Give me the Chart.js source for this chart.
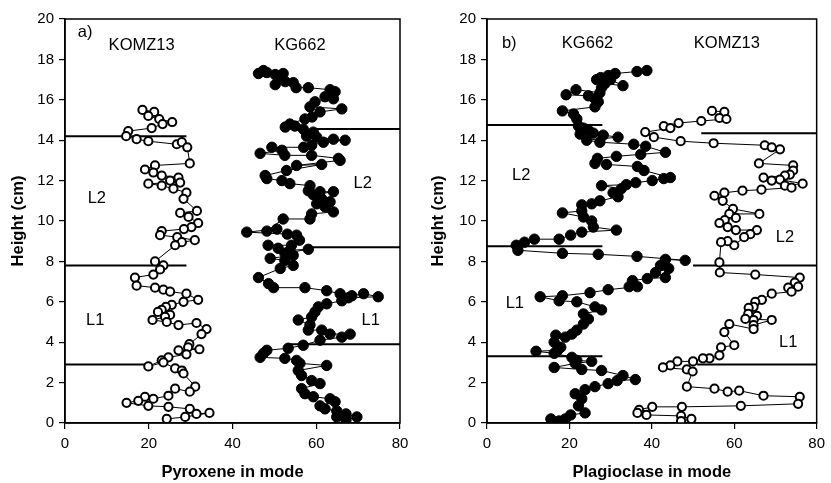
<!DOCTYPE html>
<html>
<head>
<meta charset="utf-8">
<title>Pyroxene / Plagioclase in mode</title>
<script src="https://cdn.jsdelivr.net/npm/chart.js@4.4.1/dist/chart.umd.min.js"></script>
<style>
  html, body { margin: 0; padding: 0; background: #fff; }
  #wrap { position: relative; width: 831px; height: 483px; }
  .panel { position: absolute; top: 0; height: 483px; }
  #pa { left: 0; width: 415px; }
  #pb { left: 415px; width: 416px; }
</style>
</head>
<body>
<div id="wrap">
  <div class="panel" id="pa"><canvas id="chartA"></canvas></div>
  <div class="panel" id="pb"><canvas id="chartB"></canvas></div>
</div>
<script>
/* ── Modal profiles, KOMZ13 vs KG662 ───────────────────────────────────────── */

// ── a) Pyroxene — KOMZ13 (open circles) ──────────────────────────────────────
const komzPyxMode = [18.5,21.3,19.9,22.5,25.6,23.3,20.7,15.1,14.6,17.1,19.9,26.7,27.9,29.2,29.8,21.5,19.1,21.1,23.1,27.1,
  25.1,27.5,19.9,23.1,25.9,29.0,28.3,31.5,27.5,29.5,31.8,30.2,28.4,23.1,22.7,26.8,31.0,27.9,26.3,21.5,
  23.5,22.7,21.1,16.7,17.1,21.5,23.5,25.1,29.0,31.8,28.3,25.5,24.1,23.1,22.2,25.1,23.9,20.9,24.3,27.1,
  31.4,33.8,32.6,29.7,29.4,32.1,27.1,29.0,24.7,23.1,19.9,23.5,26.3,27.9,28.3,31.1,29.8,26.3,24.7,21.1,
  19.1,17.5,14.7,19.9,24.7,29.8,31.4,34.5,28.7,24.3];
const komzPyxHeight = [15.5,15.4,15.2,15.05,14.9,14.8,14.6,14.45,14.2,14.05,13.95,13.8,13.9,13.65,12.85,12.75,12.55,12.4,12.25,12.15,
  12.0,11.9,11.85,11.75,11.6,11.4,11.1,10.5,10.4,10.2,9.9,9.7,9.6,9.5,9.3,9.2,9.05,8.95,8.8,8.0,
  7.8,7.6,7.35,7.2,6.8,6.7,6.6,6.5,6.4,6.1,6.0,5.85,5.75,5.6,5.5,5.35,5.25,5.1,5.0,4.85,
  4.95,4.65,4.4,3.9,3.75,3.65,3.6,3.4,3.25,3.1,2.8,3.0,2.7,2.6,2.45,1.8,1.55,1.7,1.35,1.2,
  1.3,1.1,1.0,0.85,0.8,0.7,0.45,0.5,0.3,0.2];

// ── a) Pyroxene — KG662 (filled circles) ─────────────────────────────────────
const kgPyxMode = [46.2,47.4,48.2,50.2,52.1,51.0,52.6,50.2,54.5,55.2,58.1,63.3,64.5,62.1,64.1,59.7,58.5,66.1,60.9,59.0,
  57.3,53.7,54.9,52.6,56.9,59.3,57.7,60.1,64.1,66.9,61.7,58.9,57.0,49.4,51.8,46.6,52.5,58.9,65.3,65.7,
  55.3,61.3,52.9,47.8,48.2,51.8,53.7,58.5,58.1,60.9,64.1,59.3,61.3,63.3,60.1,62.1,64.1,58.9,58.5,52.1,
  48.2,50.6,43.4,53.1,55.3,56.0,54.1,48.5,50.9,53.7,58.1,52.5,54.5,49.0,52.5,54.5,51.4,46.2,48.6,49.8,
  57.3,62.5,65.7,68.5,71.3,74.8,67.7,66.1,62.5,60.5,59.7,58.9,55.7,58.5,58.1,61.3,63.3,68.1,66.1,60.9,
  56.9,53.3,48.2,47.4,46.6,52.5,55.3,56.1,62.5,55.7,56.5,58.9,60.9,56.5,57.3,59.3,63.3,64.5,60.9,62.1,
  64.9,67.1,69.7,67.1,64.9];
const kgPyxHeight = [17.3,17.45,17.35,17.25,17.3,17.05,16.9,16.75,16.85,16.6,16.6,16.5,16.4,16.15,16.05,15.9,15.65,15.55,15.4,15.15,
  15.05,14.8,14.7,14.65,14.55,14.4,14.2,14.15,14.05,14.0,13.9,13.75,13.65,13.65,13.5,13.35,13.25,13.25,13.1,13.0,
  12.75,12.8,12.5,12.25,12.1,12.0,11.85,11.75,11.5,11.45,11.45,11.3,11.1,10.95,10.85,10.7,10.45,10.35,10.1,10.1,
  9.5,9.6,9.45,9.35,9.3,9.05,8.8,8.8,8.65,8.55,8.6,8.4,8.3,8.15,8.05,7.8,7.65,7.2,6.9,6.7,
  6.7,6.55,6.4,6.3,6.4,6.25,6.2,6.05,5.9,5.75,5.5,5.25,5.1,4.85,4.6,4.6,4.4,4.4,4.25,4.1,
  3.85,3.7,3.6,3.45,3.25,3.2,3.1,2.95,2.85,2.6,2.35,2.1,1.95,1.7,1.45,1.3,1.2,1.05,0.85,0.7,
  0.6,0.45,0.3,0.15,0.3];

// ── b) Plagioclase — KG662 (filled circles) ──────────────────────────────────
const kgPlgMode = [38.8,36.4,31.1,29.4,27.6,26.6,30.0,33.0,28.6,27.8,27.4,21.6,19.2,24.6,26.2,27.0,26.2,18.3,21.0,21.8,
  22.2,23.4,24.6,25.8,22.6,28.2,31.8,24.2,27.4,35.6,38.5,43.3,37.3,31.4,26.8,26.2,29.0,36.5,38.1,44.5,
  42.9,40.1,36.1,33.8,27.8,32.6,30.6,31.8,27.4,25.4,23.0,23.0,18.3,23.4,25.4,25.8,31.4,23.0,20.3,17.5,
  11.5,9.1,7.1,7.5,18.3,27.0,36.4,48.1,43.3,42.1,44.1,40.9,43.3,38.9,35.3,34.5,36.5,29.4,25.0,18.3,
  12.9,17.5,21.8,26.2,27.8,23.4,24.6,23.4,21.8,20.6,19.0,16.7,16.3,17.9,17.1,11.9,16.3,20.6,21.8,25.4,
  21.4,16.3,23.0,27.8,33.0,36.0,31.6,29.4,26.2,23.8,21.4,23.0,22.2,23.8,20.3,19.0,17.5,15.5];
const kgPlgHeight = [17.45,17.4,17.3,17.2,17.1,17.0,17.0,16.7,16.8,16.6,16.35,16.5,16.25,16.2,16.05,15.9,15.65,15.45,15.3,15.05,
  14.7,14.6,14.5,14.35,14.3,14.25,14.15,14.0,13.9,13.8,13.7,13.4,13.3,13.2,13.1,12.85,12.8,12.7,12.5,12.15,
  12.1,12.0,11.9,11.8,11.75,11.6,11.4,11.2,11.0,10.85,10.8,10.5,10.4,10.2,10.0,9.7,9.55,9.45,9.3,9.1,
  9.1,8.95,8.8,8.55,8.4,8.35,8.25,8.05,8.1,7.8,7.65,7.45,7.2,7.15,7.05,6.75,6.75,6.6,6.45,6.3,
  6.25,6.05,6.0,5.75,5.6,5.4,5.15,4.9,4.6,4.4,4.25,4.35,4.0,3.75,3.6,3.55,3.45,3.25,3.1,3.05,
  2.95,2.75,2.65,2.6,2.35,2.15,2.1,1.95,1.8,1.65,1.45,1.2,0.85,0.5,0.4,0.2,0.1,0.2];

// ── b) Plagioclase — KOMZ13 (open circles) ───────────────────────────────────
const komzPlgMode = [54.6,57.6,56.4,58.1,52.0,46.5,42.9,44.5,38.4,40.5,47.0,55.0,67.4,69.1,71.1,66.0,74.3,74.3,73.5,72.3,
  67.1,69.1,71.1,76.6,72.3,73.9,66.6,62.0,57.6,55.2,57.2,59.7,66.1,58.8,60.4,57.7,56.4,58.4,60.4,65.5,
  63.9,62.4,60.0,58.4,56.8,56.4,56.5,65.1,75.9,74.7,73.1,75.5,73.9,69.1,66.7,65.1,64.7,63.5,63.4,65.5,
  64.7,62.7,69.1,64.7,64.7,58.8,57.6,60.0,56.8,56.4,54.0,52.4,50.0,46.2,44.5,42.7,48.5,49.9,48.5,55.2,
  58.4,61.2,67.1,75.9,75.5,61.6,47.3,40.1,36.9,36.5,38.7,47.1,49.6,47.1];
const komzPlgHeight = [15.45,15.4,15.1,15.05,14.95,14.85,14.7,14.6,14.4,14.15,13.95,13.85,13.75,13.65,13.55,12.85,12.75,12.5,12.3,12.25,
  12.15,12.0,12.05,11.85,11.75,11.65,11.55,11.5,11.4,11.25,11.0,10.6,10.35,10.35,10.15,10.05,9.9,9.7,9.55,9.55,
  9.35,9.2,8.8,9.0,8.95,7.95,7.45,7.35,7.2,6.95,6.7,6.75,6.5,6.4,6.1,6.0,5.75,5.7,5.4,5.3,
  5.1,5.15,5.1,4.85,4.65,4.9,4.5,3.85,3.75,3.35,3.2,3.2,3.05,3.05,2.85,2.75,2.65,2.55,1.8,1.7,
  1.55,1.6,1.35,1.3,0.95,0.85,0.8,0.8,0.65,0.5,0.4,0.35,0.2,0.1];

// ── Layer boundaries (horizontal bars) ───────────────────────────────────────
const boundHeightA = [14.2, 7.8, 2.9, 14.55, 8.7, 3.9];
const boundFromA   = [0, 0, 0, 58.5, 59, 53];
const boundToA     = [29, 29, 20, 80, 80, 80];
const boundHeightB = [14.75, 8.75, 3.3, 14.35, 7.8, 2.9];
const boundFromB   = [0, 0, 0, 52, 50, 51];
const boundToB     = [28, 28, 28, 80, 80, 80];

// ── Text labels inside the plots ─────────────────────────────────────────────
const labelTextA = ['a)', 'KOMZ13', 'KG662', 'L2', 'L1', 'L2', 'L1'];
const labelXA    = [4.8, 18.3, 56.1, 7.6, 7.2, 71.1, 73.0];
const labelYA    = [19.35, 18.7, 18.7, 11.1, 5.1, 11.85, 5.1];
const labelTextB = ['b)', 'KG662', 'KOMZ13', 'L2', 'L1', 'L2', 'L1'];
const labelXB    = [5.4, 24.4, 58.2, 8.3, 6.75, 72.3, 73.1];
const labelYB    = [18.8, 18.8, 18.8, 12.25, 5.9, 9.2, 4.0];

const yTicks = [0, 2, 4, 6, 8, 10, 12, 14, 16, 18, 20];
const xTicks = [0, 20, 40, 60, 80];

const FONT = "'Liberation Sans', Arial, Helvetica, sans-serif";

// ── Helpers ──────────────────────────────────────────────────────────────────
function toPoints(xs, ys) {
  const n = Math.min(xs.length, ys.length);
  const pts = [];
  for (let i = 0; i < n; i++) pts.push({ x: xs[i], y: ys[i] });
  return pts;
}

function profile(xs, ys, filled) {
  return {
    data: toPoints(xs, ys),
    showLine: true,
    borderColor: '#000',
    borderWidth: 1,
    backgroundColor: filled ? '#000' : '#fff',
    pointBackgroundColor: filled ? '#000' : '#fff',
    pointBorderColor: '#000',
    pointBorderWidth: filled ? 1 : 2,
    pointRadius: filled ? 5.2 : 4.1,
    tension: 0,
  };
}

function bounds(hs, from, to) {
  return hs.map((h, i) => ({
    data: [{ x: from[i], y: h }, { x: to[i], y: h }],
    showLine: true,
    borderColor: '#000',
    borderWidth: 2,
    pointRadius: 0,
  }));
}

// frame + in-plot labels
const framePlugin = {
  id: 'frame',
  afterDatasetsDraw(chart, args, opts) {
    const { ctx, chartArea: a, scales } = chart;
    ctx.save();
    ctx.strokeStyle = '#000';
    ctx.lineWidth = 1.5;
    ctx.strokeRect(a.left, a.top, a.right - a.left, a.bottom - a.top);
    ctx.fillStyle = '#000';
    ctx.font = '16.5px ' + FONT;
    ctx.textAlign = 'center';
    ctx.textBaseline = 'middle';
    opts.text.forEach((t, i) => {
      ctx.fillText(t, scales.x.getPixelForValue(opts.xs[i]), scales.y.getPixelForValue(opts.ys[i]));
    });
    ctx.restore();
  },
};

function makeChart(id, datasets, xTitle, yAxisWidth, yTitlePad, rightPad, labels) {
  return new Chart(document.getElementById(id), {
    type: 'scatter',
    data: { datasets },
    plugins: [framePlugin],
    options: {
      responsive: true,
      maintainAspectRatio: false,
      animation: false,
      layout: { padding: { top: 19, right: rightPad, bottom: 0, left: 0 } },
      plugins: {
        legend: { display: false },
        tooltip: { enabled: false },
        frame: labels,
      },
      scales: {
        x: {
          type: 'linear', min: 0, max: 80,
          afterBuildTicks: s => { s.ticks = xTicks.map(v => ({ value: v })); },
          afterFit: s => { s.height = 60; },
          grid: { drawOnChartArea: false, tickLength: 6, color: '#000', lineWidth: 1.2 },
          border: { color: '#000', width: 1.5 },
          ticks: { color: '#000', padding: 6, maxRotation: 0, font: { family: FONT, size: 15 } },
          title: {
            display: true, text: xTitle, color: '#000',
            font: { family: FONT, size: 16.5, weight: 'bold' },
            padding: { top: 0, bottom: 1 },
          },
        },
        y: {
          type: 'linear', min: 0, max: 20,
          afterBuildTicks: s => { s.ticks = yTicks.map(v => ({ value: v })); },
          afterFit: s => { s.width = yAxisWidth; },
          grid: { drawOnChartArea: false, tickLength: 6, color: '#000', lineWidth: 1.2 },
          border: { color: '#000', width: 1.5 },
          ticks: { color: '#000', padding: 5, font: { family: FONT, size: 15 } },
          title: {
            display: true, text: 'Height (cm)', color: '#000',
            font: { family: FONT, size: 16.5, weight: 'bold' },
            padding: { top: yTitlePad, bottom: 0 },
          },
        },
      },
    },
  });
}

// ── Panel a ──────────────────────────────────────────────────────────────────
makeChart('chartA',
  [profile(komzPyxMode, komzPyxHeight, false),
   profile(kgPyxMode, kgPyxHeight, true),
   ...bounds(boundHeightA, boundFromA, boundToA)],
  'Pyroxene in mode', 65, 8.4, 15,
  { text: labelTextA, xs: labelXA, ys: labelYA });

// ── Panel b ──────────────────────────────────────────────────────────────────
makeChart('chartB',
  [profile(kgPlgMode, kgPlgHeight, true),
   profile(komzPlgMode, komzPlgHeight, false),
   ...bounds(boundHeightB, boundFromB, boundToB)],
  'Plagioclase in mode', 72, 13.4, 9,
  { text: labelTextB, xs: labelXB, ys: labelYB });
</script>
</body>
</html>
